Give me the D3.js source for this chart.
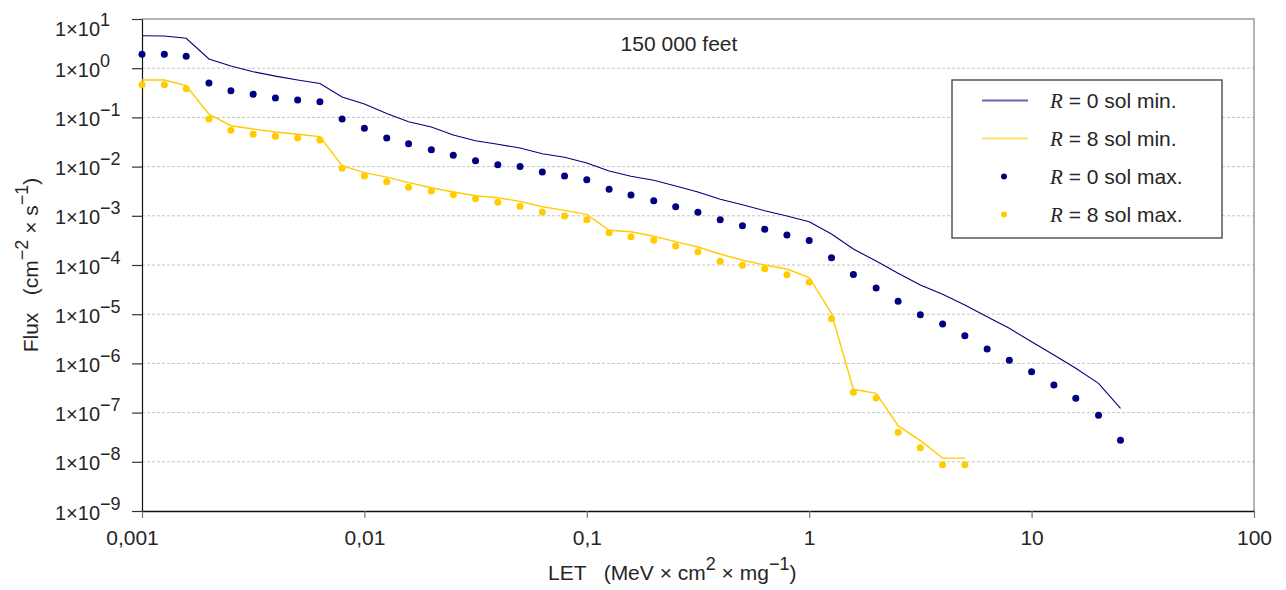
<!DOCTYPE html>
<html>
<head>
<meta charset="utf-8">
<script src="https://cdn.jsdelivr.net/npm/d3@7"></script>
<style>
  html, body { margin: 0; padding: 0; background: #ffffff; }
  svg { display: block; }
  text { font-family: "Liberation Sans", Arial, Helvetica, sans-serif; fill: #262626; }
</style>
</head>
<body>
<svg id="chart" width="1286" height="590"></svg>
<script>
// LET values (MeV·cm²/mg)
const letValues = [
  0.001, 0.00126, 0.00158, 0.002, 0.00251, 0.00316, 0.00398, 0.00501, 0.00631, 0.00794,
  0.01, 0.0126, 0.0158, 0.02, 0.0251, 0.0316, 0.0398, 0.0501, 0.0631, 0.0794,
  0.1, 0.126, 0.158, 0.2, 0.251, 0.316, 0.398, 0.501, 0.631, 0.794,
  1, 1.26, 1.58, 2, 2.51, 3.16, 3.98, 5.01, 6.31, 7.94,
  10, 12.6, 15.8, 20, 25.1
];

// Flux, R = 0, solar minimum (line)
const fluxR0Min = [
  4.58, 4.51, 4.05, 1.54, 1.11, 0.85, 0.69, 0.575, 0.49, 0.26,
  0.187, 0.12, 0.0817, 0.0638, 0.0439, 0.0336, 0.0284, 0.0239, 0.0183, 0.0155,
  0.0118, 0.00814, 0.00635, 0.00526, 0.00403, 0.00305, 0.00216, 0.00168, 0.00127, 0.00099,
  0.000759, 0.000427, 0.000211, 0.00012, 6.78e-5, 3.92e-5, 2.54e-5, 1.54e-5, 8.89e-6, 5.16e-6,
  2.76e-6, 1.48e-6, 7.94e-7, 3.94e-7, 1.22e-7
];

// Flux, R = 8, solar minimum (line)
const fluxR8Min = [
  0.575, 0.575, 0.441, 0.116, 0.0678, 0.0581, 0.0505, 0.0454, 0.0406, 0.0104,
  0.00752, 0.0061, 0.00471, 0.00372, 0.00305, 0.00256, 0.00233, 0.00197, 0.00153, 0.00129,
  0.00107, 0.000507, 0.000475, 0.000383, 0.000298, 0.000232, 0.000167, 0.000125, 0.0001, 8.29e-5,
  5.57e-5, 1.04e-5, 2.98e-7, 2.47e-7, 5.42e-8, 2.69e-8, 1.19e-8, 1.19e-8
];

// Flux, R = 0, solar maximum (dots)
const fluxR0Max = [
  1.92, 1.92, 1.75, 0.50, 0.349, 0.295, 0.248, 0.226, 0.208, 0.0927,
  0.060, 0.0381, 0.0292, 0.0220, 0.0170, 0.0132, 0.0109, 0.0101, 0.00776, 0.00644,
  0.00542, 0.00346, 0.00265, 0.00203, 0.00153, 0.00118, 0.000834, 0.00063, 0.000532, 0.000407,
  0.000315, 0.000141, 6.41e-5, 3.41e-5, 1.83e-5, 9.77e-6, 6.32e-6, 3.66e-6, 1.96e-6, 1.16e-6,
  6.78e-7, 3.64e-7, 1.95e-7, 8.81e-8, 2.74e-8
];

// Flux, R = 8, solar maximum (dots)
const fluxR8Max = [
  0.462, 0.462, 0.383, 0.0927, 0.0547, 0.0454, 0.0413, 0.0381, 0.0347, 0.00923,
  0.00644, 0.00493, 0.00379, 0.00319, 0.00268, 0.00223, 0.00188, 0.00156, 0.00119, 0.00099,
  0.000834, 0.000454, 0.000376, 0.000318, 0.000243, 0.000186, 0.000119, 9.86e-5, 8.41e-5, 6.35e-5,
  4.45e-5, 8.11e-6, 2.59e-7, 1.98e-7, 3.98e-8, 1.94e-8, 8.73e-9, 8.73e-9
];

// Axis ticks
const xTickValues = [0.001, 0.01, 0.1, 1, 10, 100];
const xTickLabels = ["0,001", "0,01", "0,1", "1", "10", "100"];
const yTickExponents = [1, 0, -1, -2, -3, -4, -5, -6, -7, -8, -9];

const seriesNames = ["R0min", "R8min", "R0max", "R8max"];
const legendLabels = ["= 0 sol min.", "= 8 sol min.", "= 0 sol max.", "= 8 sol max."];

const navy = "#000080";
const gold = "#FFCC00";

const svg = d3.select("#chart");
const plot = { left: 142, right: 1254, top: 19, bottom: 511 };

const x = d3.scaleLog().domain([0.001, 100]).range([plot.left, plot.right]);
const y = d3.scaleLog().domain([1e-9, 10]).range([plot.bottom, plot.top]);

const yTickValues = yTickExponents.map(e => Math.pow(10, e));

// Dashed horizontal gridlines
svg.append("g")
  .selectAll("line")
  .data(yTickValues.filter(v => v < 10 && v > 1e-9))
  .join("line")
  .attr("x1", plot.left).attr("x2", plot.right)
  .attr("y1", d => y(d)).attr("y2", d => y(d))
  .attr("stroke", "#c4c4c4")
  .attr("stroke-width", 1)
  .attr("stroke-dasharray", "3,2");

// Top and right frame
svg.append("path")
  .attr("d", `M${plot.left},${plot.top}H${plot.right}V${plot.bottom}`)
  .attr("fill", "none")
  .attr("stroke", "#9a9a9a")
  .attr("stroke-width", 1.5);

// X axis
const xAxis = svg.append("g")
  .attr("transform", `translate(0,${plot.bottom})`)
  .call(d3.axisBottom(x)
    .tickValues(xTickValues)
    .tickFormat((d, i) => xTickLabels[i])
    .tickSizeInner(7)
    .tickSizeOuter(0)
    .tickPadding(12));
xAxis.select(".domain").attr("stroke", "#111").attr("stroke-width", 1.5);
xAxis.selectAll(".tick line").attr("stroke", "#777").attr("stroke-width", 1.2);
xAxis.selectAll(".tick text")
  .attr("font-size", 21)
  .attr("fill", "#262626")
  .attr("font-family", "Liberation Sans, Arial, sans-serif")
  .attr("dx", (d, i) => i === 0 ? -10 : 0);

// Y axis with 1×10^n labels
const yAxis = svg.append("g")
  .attr("transform", `translate(${plot.left},0)`)
  .call(d3.axisLeft(y)
    .tickValues(yTickValues)
    .tickFormat("")
    .tickSizeInner(10)
    .tickSizeOuter(0));
yAxis.select(".domain").attr("stroke", "#111").attr("stroke-width", 1.2);
yAxis.selectAll(".tick line").attr("stroke", "#333").attr("stroke-width", 1.2);
yAxis.selectAll(".tick text").each(function (d, i) {
  const t = d3.select(this);
  const exp = yTickExponents[i];
  t.text(null)
    .attr("x", 55 - plot.left)
    .attr("dy", null)
    .attr("y", exp === 1 ? 16 : 8)
    .attr("text-anchor", "start")
    .attr("font-size", 20)
    .attr("fill", "#262626")
    .attr("font-family", "Liberation Sans, Arial, sans-serif");
  t.append("tspan").text("1\u00D710");
  t.append("tspan")
    .attr("dy", -10)
    .attr("font-size", 18)
    .text(String(exp).replace("-", "\u2212"));
});

// Series lines
const line = d3.line()
  .x(d => x(d[0]))
  .y(d => y(d[1]));

const lineSeries = [
  { name: seriesNames[0], values: fluxR0Min, color: navy, width: 1.1 },
  { name: seriesNames[1], values: fluxR8Min, color: gold, width: 1.4 }
];
svg.append("g")
  .selectAll("path")
  .data(lineSeries)
  .join("path")
  .attr("class", d => "line-" + d.name)
  .attr("d", d => line(d.values.map((v, i) => [letValues[i], v])))
  .attr("fill", "none")
  .attr("stroke", d => d.color)
  .attr("stroke-width", d => d.width);

// Series dots
const dotSeries = [
  { name: seriesNames[2], values: fluxR0Max, color: navy },
  { name: seriesNames[3], values: fluxR8Max, color: gold }
];
dotSeries.forEach(s => {
  svg.append("g")
    .attr("class", "dots-" + s.name)
    .selectAll("circle")
    .data(s.values.map((v, i) => [letValues[i], v]))
    .join("circle")
    .attr("cx", d => x(d[0]))
    .attr("cy", d => y(d[1]))
    .attr("r", 3.5)
    .attr("fill", s.color);
});

// Chart note
svg.append("text")
  .attr("x", 679).attr("y", 51)
  .attr("text-anchor", "middle")
  .attr("font-size", 21)
  .text("150 000 feet");

// Legend
const legend = svg.append("g").attr("class", "legend");
legend.append("rect")
  .attr("x", 952).attr("y", 80)
  .attr("width", 270).attr("height", 158)
  .attr("fill", "#ffffff")
  .attr("stroke", "#4a4a4a")
  .attr("stroke-width", 1.4);

const legendItems = [
  { kind: "line", color: navy },
  { kind: "line", color: gold },
  { kind: "dot", color: navy },
  { kind: "dot", color: gold }
];
legendItems.forEach((item, i) => {
  const cy = 100.5 + i * 38;
  if (item.kind === "line") {
    legend.append("line")
      .attr("x1", 982).attr("x2", 1028)
      .attr("y1", cy).attr("y2", cy)
      .attr("stroke", item.color)
      .attr("stroke-opacity", 0.6)
      .attr("stroke-width", 2);
  } else {
    legend.append("circle")
      .attr("cx", 1004).attr("cy", cy)
      .attr("r", 3)
      .attr("fill", item.color);
  }
  const t = legend.append("text")
    .attr("x", 1050).attr("y", cy + 7)
    .attr("font-size", 21)
    .style("white-space", "pre");
  t.append("tspan")
    .attr("font-family", "Liberation Serif, Times New Roman, serif")
    .attr("font-style", "italic")
    .text("R");
  t.append("tspan").text(" " + legendLabels[i]);
});

// Axis titles
const xTitle = svg.append("text")
  .attr("x", 548).attr("y", 580)
  .attr("font-size", 21)
  .style("white-space", "pre");
xTitle.append("tspan").text("LET   (MeV \u00D7 cm");
xTitle.append("tspan").attr("dy", -10).attr("font-size", 18).text("2");
xTitle.append("tspan").attr("dy", 10).text(" \u00D7 mg");
xTitle.append("tspan").attr("dy", -10).attr("font-size", 18).text("\u22121");
xTitle.append("tspan").attr("dy", 10).text(")");

const yTitle = svg.append("text")
  .attr("transform", `translate(38,${(plot.top + plot.bottom) / 2}) rotate(-90)`)
  .attr("text-anchor", "middle")
  .attr("font-size", 21)
  .style("white-space", "pre");
yTitle.append("tspan").text("Flux   (cm");
yTitle.append("tspan").attr("dy", -10).attr("font-size", 18).text("\u22122");
yTitle.append("tspan").attr("dy", 10).text(" \u00D7 s");
yTitle.append("tspan").attr("dy", -10).attr("font-size", 18).text("\u22121");
yTitle.append("tspan").attr("dy", 10).text(")");
</script>
</body>
</html>
